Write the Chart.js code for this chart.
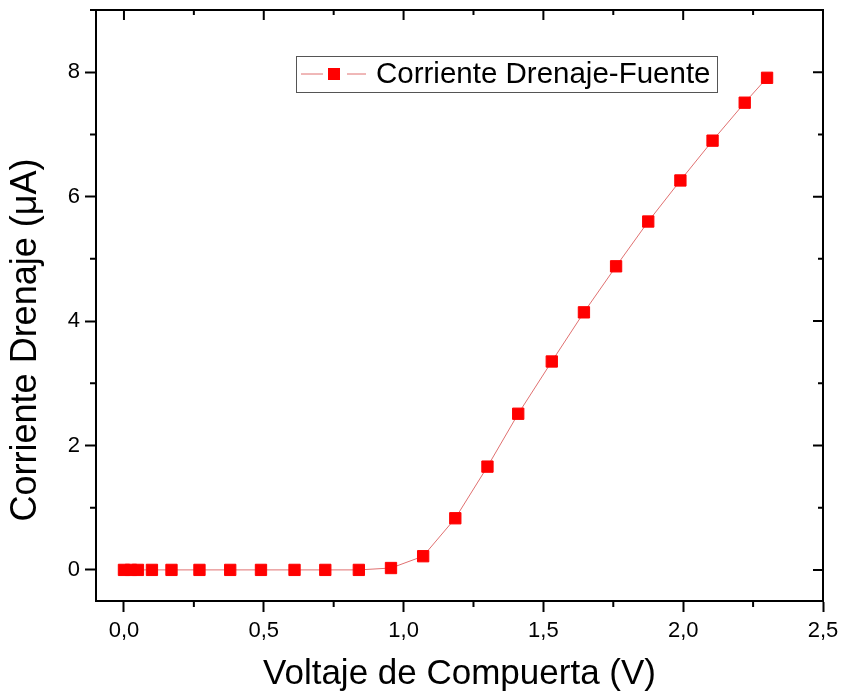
<!DOCTYPE html>
<html>
<head>
<meta charset="utf-8">
<script src="https://cdn.jsdelivr.net/npm/chart.js@4.4.0/dist/chart.umd.min.js"></script>
<style>
  html, body { margin: 0; padding: 0; background: #fff; }
</style>
</head>
<body>
<canvas id="chart" width="842" height="697"></canvas>
<script>
// Data
const voltage = [0, 0.025, 0.05, 0.10, 0.17, 0.27, 0.38, 0.49, 0.61, 0.72, 0.84, 0.955,
                 1.07, 1.185, 1.30, 1.41, 1.53, 1.645, 1.76, 1.875, 1.99, 2.105, 2.22, 2.30];
const current = [0, 0, 0, 0, 0, 0, 0, 0, 0, 0, 0, 0.03,
                 0.22, 0.83, 1.66, 2.51, 3.35, 4.14, 4.88, 5.60, 6.26, 6.90, 7.51, 7.91];
const xTicks = [0, 0.5, 1.0, 1.5, 2.0, 2.5];
const yTicks = [0, 2, 4, 6, 8];
const seriesLabel = "Corriente Drenaje-Fuente";
const xTitle = "Voltaje de Compuerta (V)";
const yTitle = "Corriente Drenaje (\u03BCA)";

const FONT = "'Liberation Sans', Arial, sans-serif";
const RED = "#ff0000";
const LINE = "#e07070";

//Mirror frame, inner ticks and minor ticks like Origin does
const framePlugin = {
    id: "frame",
    afterDraw(chart) {
        const { ctx, chartArea: a, scales } = chart;
        const x = scales.x, y = scales.y;
        const mid = arr => arr.slice(0, -1).map((v, i) => (v + arr[i + 1]) / 2);
        const xMinor = mid(xTicks);
        const yMinor = mid(yTicks).concat([yTicks[yTicks.length - 1] + 1]);
        ctx.save();
        ctx.strokeStyle = "#000";
        ctx.lineWidth = 2;
        ctx.beginPath();
        ctx.moveTo(a.left - 1, a.top);
        ctx.lineTo(a.right, a.top);
        ctx.lineTo(a.right, a.bottom + 1);
        xTicks.forEach(v => {
            const px = x.getPixelForValue(v);
            ctx.moveTo(px, a.top); ctx.lineTo(px, a.top + 10);
        });
        xMinor.forEach(v => {
            const px = x.getPixelForValue(v);
            ctx.moveTo(px, a.top); ctx.lineTo(px, a.top + 5);
            ctx.moveTo(px, a.bottom); ctx.lineTo(px, a.bottom + 6);
        });
        yTicks.forEach(v => {
            const py = y.getPixelForValue(v);
            ctx.moveTo(a.right, py); ctx.lineTo(a.right - 10, py);
        });
        yMinor.forEach(v => {
            const py = y.getPixelForValue(v);
            ctx.moveTo(a.right, py); ctx.lineTo(a.right - 5, py);
            ctx.moveTo(a.left, py); ctx.lineTo(a.left - 6, py);
        });
        ctx.stroke();

        // y axis title
        ctx.fillStyle = "#000";
        ctx.font = "36px " + FONT;
        ctx.textAlign = "center";
        ctx.textBaseline = "middle";
        ctx.translate(26, 340);
        ctx.rotate(-Math.PI / 2);
        ctx.fillText(yTitle, 0, 0);
        ctx.restore();

        // legend box inside the plot
        ctx.save();
        const lx = 296, ly = 56, lw = 421, lh = 36;
        ctx.fillStyle = "#fff";
        ctx.fillRect(lx, ly, lw, lh);
        ctx.strokeStyle = "#555";
        ctx.lineWidth = 1;
        ctx.strokeRect(lx + 0.5, ly + 0.5, lw, lh);
        const cy = ly + lh / 2;
        ctx.strokeStyle = LINE;
        ctx.beginPath();
        ctx.moveTo(lx + 5, cy); ctx.lineTo(lx + 27, cy);
        ctx.moveTo(lx + 51, cy); ctx.lineTo(lx + 70, cy);
        ctx.stroke();
        ctx.fillStyle = RED;
        ctx.fillRect(lx + 32, cy - 6, 12, 12);
        ctx.fillStyle = "#000";
        ctx.font = "29.5px " + FONT;
        ctx.textBaseline = "middle";
        ctx.textAlign = "left";
        ctx.fillText(chart.data.datasets[0].label, lx + 80, cy + 1);
        ctx.restore();
    }
};

const points = voltage.map((v, i) => ({ x: v, y: current[i] }));

new Chart(document.getElementById("chart"), {
    type: "scatter",
    data: {
        datasets: [{
            label: seriesLabel,
            data: points,
            showLine: true,
            borderColor: LINE,
            borderWidth: 1,
            pointStyle: "rect",
            pointRadius: 8,
            pointBorderWidth: 1,
            pointBackgroundColor: RED,
            pointBorderColor: RED,
        }],
    },
    options: {
        responsive: false,
        animation: false,
        devicePixelRatio: 1,
        layout: { padding: { top: 10, right: 19, left: 0, bottom: 0 } },
        plugins: {
            legend: { display: false },
            tooltip: { enabled: false },
        },
        scales: {
            x: {
                type: "linear",
                min: -0.1,
                max: 2.5,
                afterFit(s) {
                    s.height = 96;
                    s.paddingLeft = 0;
                    s.paddingRight = 0;
                },
                border: { display: true, color: "#000", width: 2 },
                grid: { drawOnChartArea: false, tickLength: 11, tickColor: "#000", tickWidth: 2 },
                ticks: {
                    stepSize: 0.5,
                    includeBounds: false,
                    maxRotation: 0,
                    padding: 6,
                    color: "#000",
                    font: { family: FONT, size: 22 },
                    callback: v => v.toFixed(1).replace(".", ","),
                },
                title: {
                    display: true,
                    text: xTitle,
                    color: "#000",
                    font: { family: FONT, size: 35 },
                    padding: { top: 0, bottom: 2 },
                },
            },
            y: {
                type: "linear",
                min: -0.5,
                max: 9,
                afterFit(s) {
                    s.width = 96;
                    s.paddingTop = 0;
                    s.paddingBottom = 0;
                },
                border: { display: true, color: "#000", width: 2 },
                grid: { drawOnChartArea: false, tickLength: 11, tickColor: "#000", tickWidth: 2 },
                ticks: {
                    stepSize: 2,
                    includeBounds: false,
                    padding: 5,
                    color: "#000",
                    font: { family: FONT, size: 22 },
                },
            },
        },
    },
    plugins: [framePlugin],
});
</script>
</body>
</html>
